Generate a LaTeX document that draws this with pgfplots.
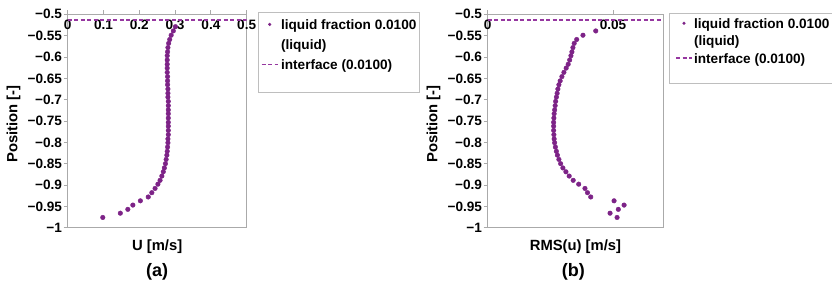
\documentclass[border=0pt]{standalone}
\usepackage{fontspec}
\setmainfont{Liberation Sans}
\usepackage{pgfplots}
\pgfplotsset{compat=1.18}
\definecolor{dotpur}{RGB}{125,35,135}
\definecolor{dashpur}{RGB}{150,55,160}
\definecolor{axgray}{RGB}{170,170,170}
\definecolor{boxgray}{RGB}{190,190,190}
\newcommand{\tickfont}{\fontsize{13.6}{15}\selectfont\bfseries}
\newcommand{\labfont}{\fontsize{14.8}{17}\selectfont\bfseries}
\newcommand{\capfont}{\fontsize{18}{20}\selectfont\bfseries}
\pgfplotsset{
  panel/.style={
    scale only axis, anchor=south west, height=213.4pt,
    ymin=-1, ymax=-0.5, clip mode=individual,
    scaled x ticks=false, scaled y ticks=false,
    ytick={-1,-0.95,-0.9,-0.85,-0.8,-0.75,-0.7,-0.65,-0.6,-0.55,-0.5},
    yticklabels={−1,−0.95,−0.9,−0.85,−0.8,−0.75,−0.7,−0.65,−0.6,−0.55,−0.5},
    xtick pos=right, ytick pos=left, xticklabel pos=right,
    tick align=outside, major tick length=4pt,
    axis line style={axgray, line width=0.8pt},
    every tick/.style={axgray, line width=0.8pt},
    tick label style={font=\tickfont, black},
    yticklabel style={inner sep=1.5pt},
    xticklabel style={anchor=north, yshift=-5.8pt},
    legend image post style={yshift=4.8pt},
  },
  dots/.style={only marks, mark=*, mark size=2.3pt, color=dotpur,
    legend image code/.code={\draw[mark repeat=2,mark phase=2,##1, mark size=1.4pt] plot coordinates {(0pt,0pt) (8pt,0pt) (16pt,0pt)};}},
  iface/.style={dashpur, line width=1.6pt, dash pattern=on 4pt off 2.5pt,
    legend image code/.code={\draw[##1] (0pt,0pt) -- (16pt,0pt);}},
}
\begin{document}
\begin{tikzpicture}
\path[use as bounding box] (0pt,0pt) rectangle (832pt,287pt);
% ---------------- panel (a)
\begin{axis}[panel, at={(67.7pt,59.3pt)}, width=179pt,
  xmin=0, xmax=0.5,
  xtick={0,0.1,0.2,0.3,0.4,0.5}, xticklabels={0,0.1,0.2,0.3,0.4,0.5},
  legend style={at={(axis description cs:1.0648,1.0094)}, anchor=north west,
    draw=boxgray, fill=white, font=\tickfont,
    inner xsep=2.4pt, inner ysep=6.7pt, row sep=7pt, column sep=2.6pt,
    cells={anchor=base west}, nodes={inner sep=0pt, text height=10pt, text depth=3pt}}]
\addplot[dots] table {
0.098 -0.976
0.147 -0.966
0.168 -0.957
0.182 -0.947
0.203 -0.937
0.225 -0.928
0.235 -0.918
0.244 -0.908
0.252 -0.898
0.258 -0.889
0.263 -0.879
0.267 -0.869
0.270 -0.860
0.273 -0.850
0.275 -0.840
0.277 -0.830
0.278 -0.821
0.279 -0.811
0.280 -0.801
0.280 -0.792
0.281 -0.782
0.281 -0.772
0.281 -0.762
0.281 -0.753
0.281 -0.743
0.281 -0.733
0.281 -0.724
0.281 -0.714
0.281 -0.704
0.280 -0.694
0.280 -0.685
0.280 -0.675
0.279 -0.665
0.279 -0.656
0.279 -0.646
0.278 -0.636
0.278 -0.626
0.278 -0.617
0.278 -0.607
0.278 -0.597
0.279 -0.588
0.280 -0.578
0.282 -0.568
0.285 -0.559
0.289 -0.549
0.295 -0.539
0.301 -0.529
};
\addlegendentry{liquid fraction 0.0100}
\addlegendimage{empty legend}
\addlegendentry{(liquid)}
\addplot[iface] coordinates {(0,-0.513) (0.5,-0.513)};
\addlegendentry[text depth=16pt]{interface (0.0100)}
\node[font=\labfont] at (axis description cs:0.5,0) [yshift=-19pt] {U [m/s]};
\node[xshift=-54.2pt, yshift=-3pt, rotate=90, font=\labfont] at (axis description cs:0,0.5) {Position [-]};
\node[font=\capfont] at (axis description cs:0.5,0) [yshift=-44pt] {(a)};
\end{axis}
% ---------------- panel (b)
\begin{axis}[panel, at={(487.7pt,59.3pt)}, width=175.5pt,
  xmin=0, xmax=0.07,
  xtick={0,0.05}, xticklabels={0,0.05},
  legend style={at={(axis description cs:1.0348,1.0047)}, anchor=north west,
    draw=boxgray, fill=white, font=\tickfont,
    inner xsep=5.7pt, inner ysep=4.5pt, row sep=4.5pt, column sep=1.3pt,
    cells={anchor=base west}, nodes={inner sep=0pt, text height=10pt, text depth=3pt}}]
\addplot[dots] table {
0.0516 -0.976
0.0488 -0.966
0.0521 -0.957
0.0544 -0.947
0.0504 -0.937
0.0411 -0.928
0.0398 -0.918
0.0388 -0.908
0.0363 -0.898
0.0341 -0.889
0.0325 -0.879
0.0312 -0.869
0.0300 -0.860
0.0291 -0.850
0.0284 -0.840
0.0278 -0.830
0.0274 -0.821
0.0270 -0.811
0.0267 -0.801
0.0265 -0.792
0.0264 -0.782
0.0263 -0.772
0.0263 -0.762
0.0263 -0.753
0.0264 -0.743
0.0265 -0.733
0.0267 -0.724
0.0269 -0.714
0.0271 -0.704
0.0274 -0.694
0.0277 -0.685
0.0280 -0.675
0.0284 -0.665
0.0289 -0.656
0.0296 -0.646
0.0304 -0.636
0.0313 -0.626
0.0321 -0.617
0.0327 -0.607
0.0332 -0.597
0.0336 -0.588
0.0340 -0.578
0.0345 -0.568
0.0355 -0.559
0.0380 -0.549
0.0431 -0.539
};
\addlegendentry{liquid fraction 0.0100}
\addlegendimage{empty legend}
\addlegendentry{(liquid)}
\addplot[iface] coordinates {(0,-0.513) (0.07,-0.513)};
\addlegendentry[text depth=16pt]{interface (0.0100)}
\node[font=\labfont] at (axis description cs:0.5,0) [yshift=-19pt] {RMS(u) [m/s]};
\node[xshift=-54.2pt, yshift=-3pt, rotate=90, font=\labfont] at (axis description cs:0,0.5) {Position [-]};
\node[font=\capfont] at (axis description cs:0.5,0) [xshift=-2pt, yshift=-44pt] {(b)};
\end{axis}
\end{tikzpicture}
\end{document}
